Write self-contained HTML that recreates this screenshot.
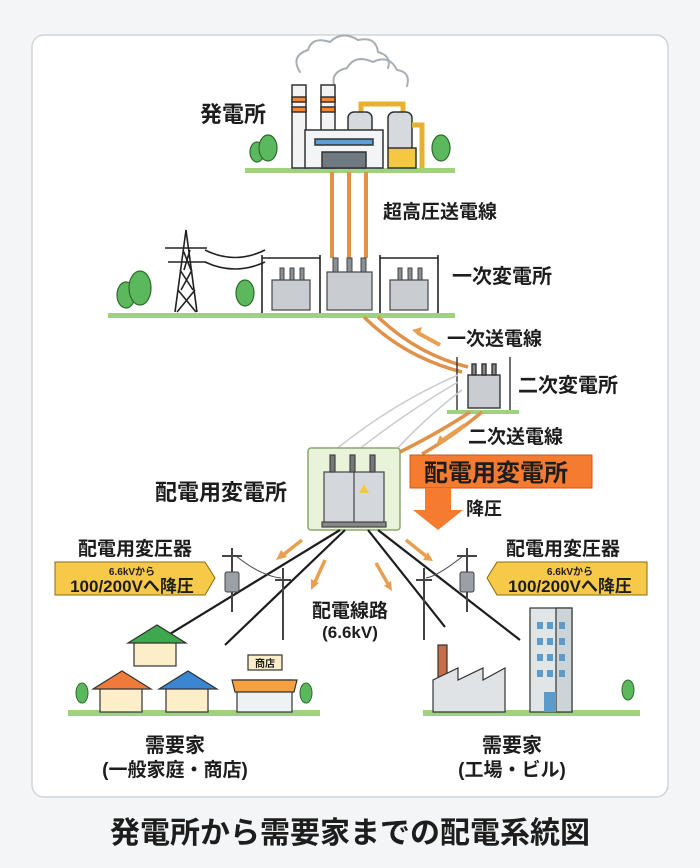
<!DOCTYPE html>
<html><head><meta charset="utf-8"><style>
html,body{margin:0;padding:0;width:700px;height:868px;overflow:hidden;background:#f3f5f6;}
svg{display:block}
text{font-family:"Liberation Sans","Noto Sans CJK JP",sans-serif;font-weight:bold;fill:#1d1d1d}
</style></head><body>
<svg width="700" height="868" viewBox="0 0 700 868" xmlns="http://www.w3.org/2000/svg">
<rect x="32" y="35" width="636" height="762" rx="12" fill="#fff" stroke="#cfd5d8" stroke-width="1.5"/>
<g fill="none" stroke="#a8aeb4" stroke-width="2" stroke-linecap="round">
<path d="M300 72 q-10-16 8-22 q4-14 22-8 q12-12 28-2 q18-4 20 12 q14 4 10 16"/>
<path d="M335 88 q-6-16 12-20 q8-14 26-6 q16-8 24 8 q14 2 10 16"/>
</g>
<!-- power plant -->
<rect x="245" y="168" width="210" height="5" fill="#9fd27a"/>
<g stroke="#333" stroke-width="1.5">
<rect x="292" y="85" width="14" height="83" fill="#f3f3f3"/><rect x="292" y="97" width="14" height="5" fill="#f08a3a"/><rect x="292" y="107" width="14" height="5" fill="#f08a3a"/>
<rect x="321" y="85" width="14" height="83" fill="#f3f3f3"/><rect x="321" y="97" width="14" height="5" fill="#f08a3a"/><rect x="321" y="107" width="14" height="5" fill="#f08a3a"/>
<path d="M361 112 v-8 h42 v14" fill="none" stroke="#e8b030" stroke-width="5"/>
<rect x="348" y="112" width="24" height="40" rx="6" fill="#d6dade"/>
<rect x="388" y="112" width="24" height="40" rx="6" fill="#d6dade"/>
<rect x="388" y="148" width="28" height="20" fill="#f5c842"/>
<path d="M412 125 h10 v43" fill="none" stroke="#e8b030" stroke-width="5"/>
<rect x="305" y="130" width="78" height="38" fill="#f3f4f5"/>
<rect x="315" y="139" width="58" height="6" fill="#5aa0d8"/>
<rect x="322" y="152" width="44" height="16" fill="#707880"/>
</g>
<g fill="#5cb85c" stroke="#2d6a2d" stroke-width="1.2">
<ellipse cx="257" cy="152" rx="7" ry="10"/><ellipse cx="268" cy="148" rx="9" ry="13"/><ellipse cx="441" cy="148" rx="9" ry="13"/>
</g>
<text x="200" y="122" font-size="22">発電所</text>
<g stroke="#e0924a" stroke-width="4"><line x1="332" y1="172" x2="332" y2="258"/><line x1="349" y1="172" x2="349" y2="258"/><line x1="366" y1="172" x2="366" y2="258"/></g>
<text x="383" y="218" font-size="19">超高圧送電線</text>
<!-- primary substation -->
<rect x="108" y="313" width="347" height="5" fill="#9fd27a"/>
<g fill="#5cb85c" stroke="#2d6a2d" stroke-width="1.2">
<ellipse cx="126" cy="295" rx="9" ry="13"/><ellipse cx="140" cy="288" rx="11" ry="17"/><ellipse cx="245" cy="293" rx="9" ry="13"/>
</g>
<g stroke="#222" stroke-width="1.6" fill="none">
<path d="M175 312 L186 230 L197 312 M178 290 L196 312 M195 290 L177 312 M180 270 L193 290 M192 270 L181 290 M183 250 L191 270 M190 250 L184 270 M165 248 h42 M168 262 h38"/>
<path d="M205 250 q30 15 60 0 M205 262 q30 14 60 0"/>
<path d="M262 255 v58 M320 255 v58 M262 258 h58 M380 255 v58 M438 255 v58 M380 258 h58"/>
</g>
<g stroke="#444" stroke-width="1.2" fill="#c9cdd1">
<rect x="272" y="280" width="38" height="30"/><rect x="390" y="280" width="38" height="30"/>
<rect x="327" y="272" width="45" height="38"/>
</g>
<g stroke="#444" fill="#8a9096"><rect x="280" y="268" width="4" height="12"/><rect x="290" y="268" width="4" height="12"/><rect x="300" y="268" width="4" height="12"/><rect x="398" y="268" width="4" height="12"/><rect x="408" y="268" width="4" height="12"/><rect x="418" y="268" width="4" height="12"/><rect x="333" y="258" width="5" height="14"/><rect x="347" y="258" width="5" height="14"/><rect x="361" y="258" width="5" height="14"/></g>
<text x="452" y="283" font-size="20">一次変電所</text>
<!-- primary line -->
<g fill="none" stroke="#e0924a" stroke-width="3.5"><path d="M364 317 q40 40 98 55"/><path d="M378 317 q40 38 90 50"/></g>
<path d="M440 345 L418 333" stroke="#e8a050" stroke-width="4"/><path d="M412 330 l10 -3 l-3 9 z" fill="#e8a050"/>
<text x="447" y="345" font-size="19">一次送電線</text>
<!-- secondary -->
<rect x="447" y="410" width="72" height="4" fill="#9fd27a"/>
<g stroke="#333" stroke-width="1.4"><path d="M457 357 v53 M510 357 v53" fill="none"/><rect x="468" y="375" width="32" height="33" fill="#c9cdd1"/><rect x="472" y="364" width="4" height="11" fill="#888"/><rect x="482" y="364" width="4" height="11" fill="#888"/><rect x="492" y="364" width="4" height="11" fill="#888"/></g>
<text x="518" y="392" font-size="20">二次変電所</text>
<g fill="none" stroke="#c8ccd0" stroke-width="1.5"><path d="M458 375 q-70 30 -135 85"/><path d="M458 382 q-60 35 -115 80"/><path d="M462 390 q-40 30 -75 70"/></g>
<g stroke="#e0924a" stroke-width="3.5" fill="none"><path d="M470 412 q-30 20 -70 40"/><path d="M482 412 q-30 25 -60 42"/></g>
<path d="M465 425 L443 440" stroke="#e8a050" stroke-width="4"/><path d="M436 445 l4 -10 l6 7 z" fill="#e8a050"/>
<text x="468" y="443" font-size="19">二次送電線</text>
<!-- distribution substation -->
<rect x="308" y="448" width="92" height="82" rx="3" fill="#e8f3da" stroke="#8aa870" stroke-width="1.5"/>
<g stroke="#444" stroke-width="1.2"><rect x="324" y="472" width="60" height="52" fill="#d4d8dc"/><rect x="330" y="455" width="5" height="17" fill="#777"/><rect x="350" y="455" width="5" height="17" fill="#777"/><rect x="370" y="455" width="5" height="17" fill="#777"/><line x1="354" y1="472" x2="354" y2="524"/><rect x="322" y="522" width="64" height="5" fill="#888"/></g>
<path d="M359 493 l5 -9 l5 9 z" fill="#f5c842"/>
<text x="155" y="500" font-size="22">配電用変電所</text>
<rect x="410" y="455" width="182" height="33" fill="#f47b30" stroke="#d05a10"/>
<text x="424" y="481" font-size="24">配電用変電所</text>
<path d="M425 488 h26 v22 h12 l-25 20 l-25 -20 h12 z" fill="#f47b30"/>
<text x="466" y="515" font-size="18">降圧</text>
<!-- distribution lines -->
<g stroke="#1d1d1d" stroke-width="2.2"><line x1="340" y1="530" x2="165" y2="637"/><line x1="345" y1="530" x2="225" y2="645"/><line x1="368" y1="530" x2="445" y2="627"/><line x1="378" y1="530" x2="520" y2="640"/></g>
<g stroke="#e8a050" stroke-width="3.5"><line x1="302" y1="540" x2="283" y2="555"/><line x1="325" y1="560" x2="315" y2="582"/><line x1="376" y1="563" x2="388" y2="584"/><line x1="406" y1="540" x2="426" y2="556"/></g>
<g fill="#e8a050"><path d="M276 560 l5 -10 l6 7z"/><path d="M311 590 l0 -11 l8 4z"/><path d="M392 591 l-8 -5 l7 -5z"/><path d="M433 561 l-10 -1 l5 -8z"/></g>
<!-- poles -->
<g stroke="#444" stroke-width="2" fill="none"><line x1="232" y1="548" x2="232" y2="612"/><line x1="222" y1="556" x2="242" y2="556"/><line x1="283" y1="568" x2="283" y2="640"/><line x1="275" y1="580" x2="291" y2="580"/><line x1="467" y1="548" x2="467" y2="612"/><line x1="457" y1="556" x2="477" y2="556"/><line x1="424" y1="568" x2="424" y2="640"/><line x1="416" y1="580" x2="432" y2="580"/>
<path d="M236 556 q25 20 45 22 M463 556 q-25 20 -37 22" stroke-width="1"/></g>
<rect x="225" y="572" width="14" height="20" rx="2" fill="#9aa0a6" stroke="#444"/>
<rect x="460" y="572" width="14" height="20" rx="2" fill="#9aa0a6" stroke="#444"/>
<text x="78" y="555" font-size="19">配電用変圧器</text>
<text x="506" y="555" font-size="19">配電用変圧器</text>
<path d="M55 562 h150 l10 16 l-10 17 h-150 z" fill="#f7c948" stroke="#8a6a10"/>
<path d="M647 562 h-150 l-10 16 l10 17 h150 z" fill="#f7c948" stroke="#8a6a10"/>
<text x="132" y="575" font-size="10" text-anchor="middle">6.6kVから</text><text x="132" y="592" font-size="17" text-anchor="middle">100/200Vへ降圧</text>
<text x="570" y="575" font-size="10" text-anchor="middle">6.6kVから</text><text x="570" y="592" font-size="17" text-anchor="middle">100/200Vへ降圧</text>
<text x="350" y="617" font-size="19" text-anchor="middle">配電線路</text>
<text x="350" y="638" font-size="17" text-anchor="middle" font-weight="normal">(6.6kV)</text>
<!-- left customers -->
<rect x="68" y="710" width="252" height="6" fill="#9fd27a"/>
<g stroke="#333" stroke-width="1.2">
<rect x="134" y="642" width="42" height="24" fill="#fbeec8"/><path d="M128 643 l29 -18 l29 18 z" fill="#3ea84f"/>
<rect x="100" y="688" width="42" height="24" fill="#fbeec8"/><path d="M93 689 l29 -18 l29 18 z" fill="#f07a3a"/>
<rect x="166" y="688" width="42" height="24" fill="#fbeec8"/><path d="M159 689 l29 -18 l29 18 z" fill="#3a86d0"/>
<rect x="237" y="680" width="55" height="32" fill="#eef2f4"/><path d="M232 680 h65 l-3 12 h-59 z" fill="#f7a040"/><rect x="248" y="655" width="34" height="15" fill="#fbeec8"/>
</g>
<text x="265" y="667" font-size="10" text-anchor="middle">商店</text>
<g fill="#5cb85c" stroke="#2d6a2d"><ellipse cx="82" cy="693" rx="6" ry="10"/><ellipse cx="306" cy="693" rx="6" ry="10"/><ellipse cx="628" cy="690" rx="6" ry="10"/></g>
<!-- right customers -->
<rect x="423" y="710" width="217" height="6" fill="#9fd27a"/>
<g stroke="#333" stroke-width="1.2">
<rect x="438" y="645" width="9" height="35" fill="#c86d48"/>
<path d="M433 712 v-32 l25 -12 v12 l25 -12 v12 l22 -12 v44 z" fill="#dfe3e6"/>
<rect x="530" y="608" width="42" height="104" fill="#e0e5e8"/><rect x="556" y="608" width="16" height="104" fill="#cdd4d8"/>
</g>
<g fill="#5b9ccc"><rect x="537" y="622" width="6" height="7"/><rect x="547" y="622" width="6" height="7"/><rect x="559" y="622" width="6" height="7"/><rect x="537" y="638" width="6" height="7"/><rect x="547" y="638" width="6" height="7"/><rect x="559" y="638" width="6" height="7"/><rect x="537" y="654" width="6" height="7"/><rect x="547" y="654" width="6" height="7"/><rect x="559" y="654" width="6" height="7"/><rect x="537" y="670" width="6" height="7"/><rect x="547" y="670" width="6" height="7"/><rect x="559" y="670" width="6" height="7"/><rect x="544" y="692" width="12" height="20"/></g>
<text x="175" y="752" font-size="20" text-anchor="middle">需要家</text>
<text x="175" y="776" font-size="19" text-anchor="middle">(一般家庭・商店)</text>
<text x="512" y="752" font-size="20" text-anchor="middle">需要家</text>
<text x="512" y="776" font-size="19" text-anchor="middle">(工場・ビル)</text>
<text x="350" y="843" font-size="30" text-anchor="middle">発電所から需要家までの配電系統図</text>
</svg>
</body></html>
